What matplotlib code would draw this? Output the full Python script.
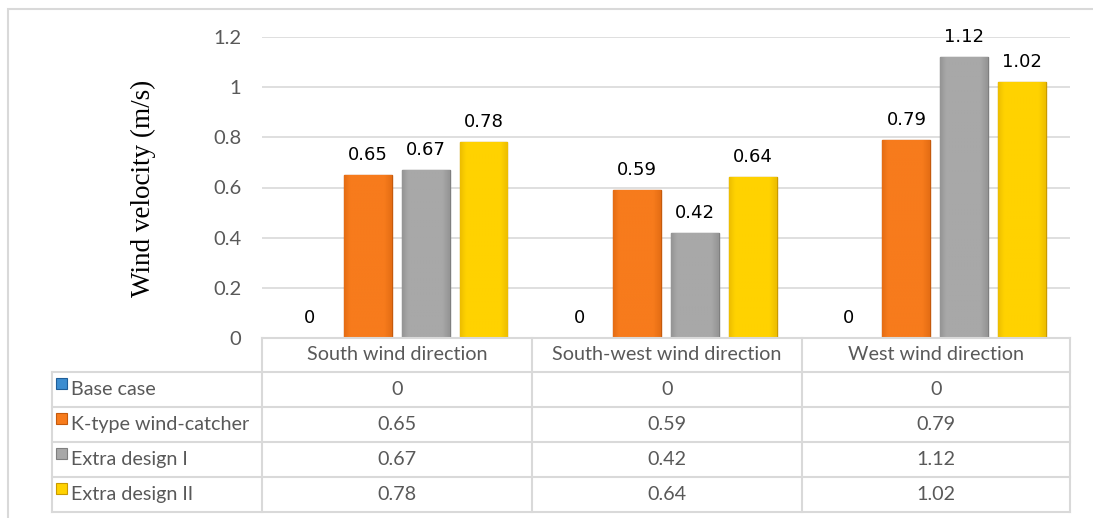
import matplotlib.pyplot as plt
from matplotlib.patches import Rectangle
from matplotlib.colors import LinearSegmentedColormap
import numpy as np

# chart data
directions = ["South wind direction", "South-west wind direction", "West wind direction"]
series_names = ["Base case", "K-type wind-catcher", "Extra design I", "Extra design II"]
base_case = [0, 0, 0]
k_type = [0.65, 0.59, 0.79]
extra_1 = [0.67, 0.42, 1.12]
extra_2 = [0.78, 0.64, 1.02]
y_ticks = [0, 0.2, 0.4, 0.6, 0.8, 1, 1.2]

series = [base_case, k_type, extra_1, extra_2]
colors = ["#3C8DD0", "#F77B1C", "#A8A8A8", "#FFD200"]
darks = ["#1F5E99", "#C55A0C", "#7F7F7F", "#C99A00"]
soft = ["#2F78BA", "#E56D14", "#959595", "#EDBE00"]

W, H = 1093, 518
fig = plt.figure(figsize=(W / 100, H / 100), dpi=100)
plt.rcParams['font.family'] = ['Lato', 'DejaVu Sans']


def fx(x):
    return x / W


def fy(y):
    return 1 - y / H


left, right, top, bottom = 262, 1070, 37, 338
ax = fig.add_axes([fx(left), fy(bottom), fx(right) - fx(left), fy(top) - fy(bottom)])

x = np.arange(len(directions))
step = 0.215
width = 0.178
for i, vals in enumerate(series):
    bars = ax.bar(x + (i - 1.5) * step, vals, width, color=colors[i],
                  edgecolor=darks[i], linewidth=1, zorder=3)
    # slight bevel: darker sides, flat middle
    cmap = LinearSegmentedColormap.from_list(
        "b%d" % i, [(0, soft[i]), (0.12, colors[i]), (0.85, colors[i]), (1, soft[i])])
    grad = np.linspace(0, 1, 64).reshape(1, -1)
    for b in bars:
        if b.get_height() <= 0:
            continue
        bx, by = b.get_x(), b.get_y()
        im = ax.imshow(grad, cmap=cmap, aspect="auto", zorder=3.5,
                       extent=(bx, bx + b.get_width(), by, by + b.get_height()))
        im.set_clip_path(b)
    labels = ["%g" % v for v in vals]
    ax.bar_label(bars, labels=labels, padding=8, fontsize=13, color="black",
                 family="DejaVu Sans")

ax.set_xlim(-0.5, 2.5)
ax.set_ylim(0, 1.2)
ax.set_yticks(y_ticks)
ax.set_yticklabels(["%g" % t for t in y_ticks], fontsize=14.5, color="#595959")
ax.set_xticks([])
ax.tick_params(axis="y", length=0, pad=15)
ax.grid(axis="y", color="#D9D9D9", linewidth=1.2, zorder=0)
for s in ax.spines.values():
    s.set_visible(False)

fig.text(fx(143), fy(188), "Wind velocity (m/s)", rotation=90, ha="center", va="center",
         fontsize=19.5, family="Liberation Serif", color="black")

# data table under the chart
line_c = "#D9D9D9"
txt_c = "#595959"
rows_y = [338, 372, 407, 442, 477, 512]
cols_x = [52, 262, 532, 802, 1070]


def hline(y, x0, x1):
    fig.add_artist(plt.Line2D([fx(x0), fx(x1)], [fy(y), fy(y)], color=line_c, lw=1.5))


def vline(x0, y0, y1):
    fig.add_artist(plt.Line2D([fx(x0), fx(x0)], [fy(y0), fy(y1)], color=line_c, lw=1.5))


hline(rows_y[0], cols_x[1], cols_x[-1])
for y in rows_y[1:]:
    hline(y, cols_x[0], cols_x[-1])
vline(cols_x[0], rows_y[1], rows_y[-1])
for cx in cols_x[1:]:
    vline(cx, rows_y[0], rows_y[-1])

for j, d in enumerate(directions):
    xc = (cols_x[j + 1] + cols_x[j + 2]) / 2
    fig.text(fx(xc), fy((rows_y[0] + rows_y[1]) / 2), d, ha="center", va="center",
             fontsize=14.2, color=txt_c)

for i, name in enumerate(series_names):
    yc = (rows_y[i + 1] + rows_y[i + 2]) / 2
    fig.add_artist(Rectangle((fx(56), fy(yc - 1)), fx(11), fy(0) - fy(11),
                             transform=fig.transFigure, facecolor=colors[i],
                             edgecolor=darks[i], linewidth=0.8))
    fig.text(fx(71), fy(yc), name, ha="left", va="center", fontsize=14.2, color=txt_c)
    for j, v in enumerate(series[i]):
        xc = (cols_x[j + 1] + cols_x[j + 2]) / 2
        fig.text(fx(xc), fy(yc), "%g" % v, ha="center", va="center",
                 fontsize=14.2, color=txt_c)

# outer chart frame
fig.add_artist(Rectangle((fx(8), fy(540)), fx(1110 - 8), fy(9) - fy(540),
                         transform=fig.transFigure, fill=False,
                         edgecolor="#D9D9D9", linewidth=1.5))

fig.savefig("out.png", dpi=100)
